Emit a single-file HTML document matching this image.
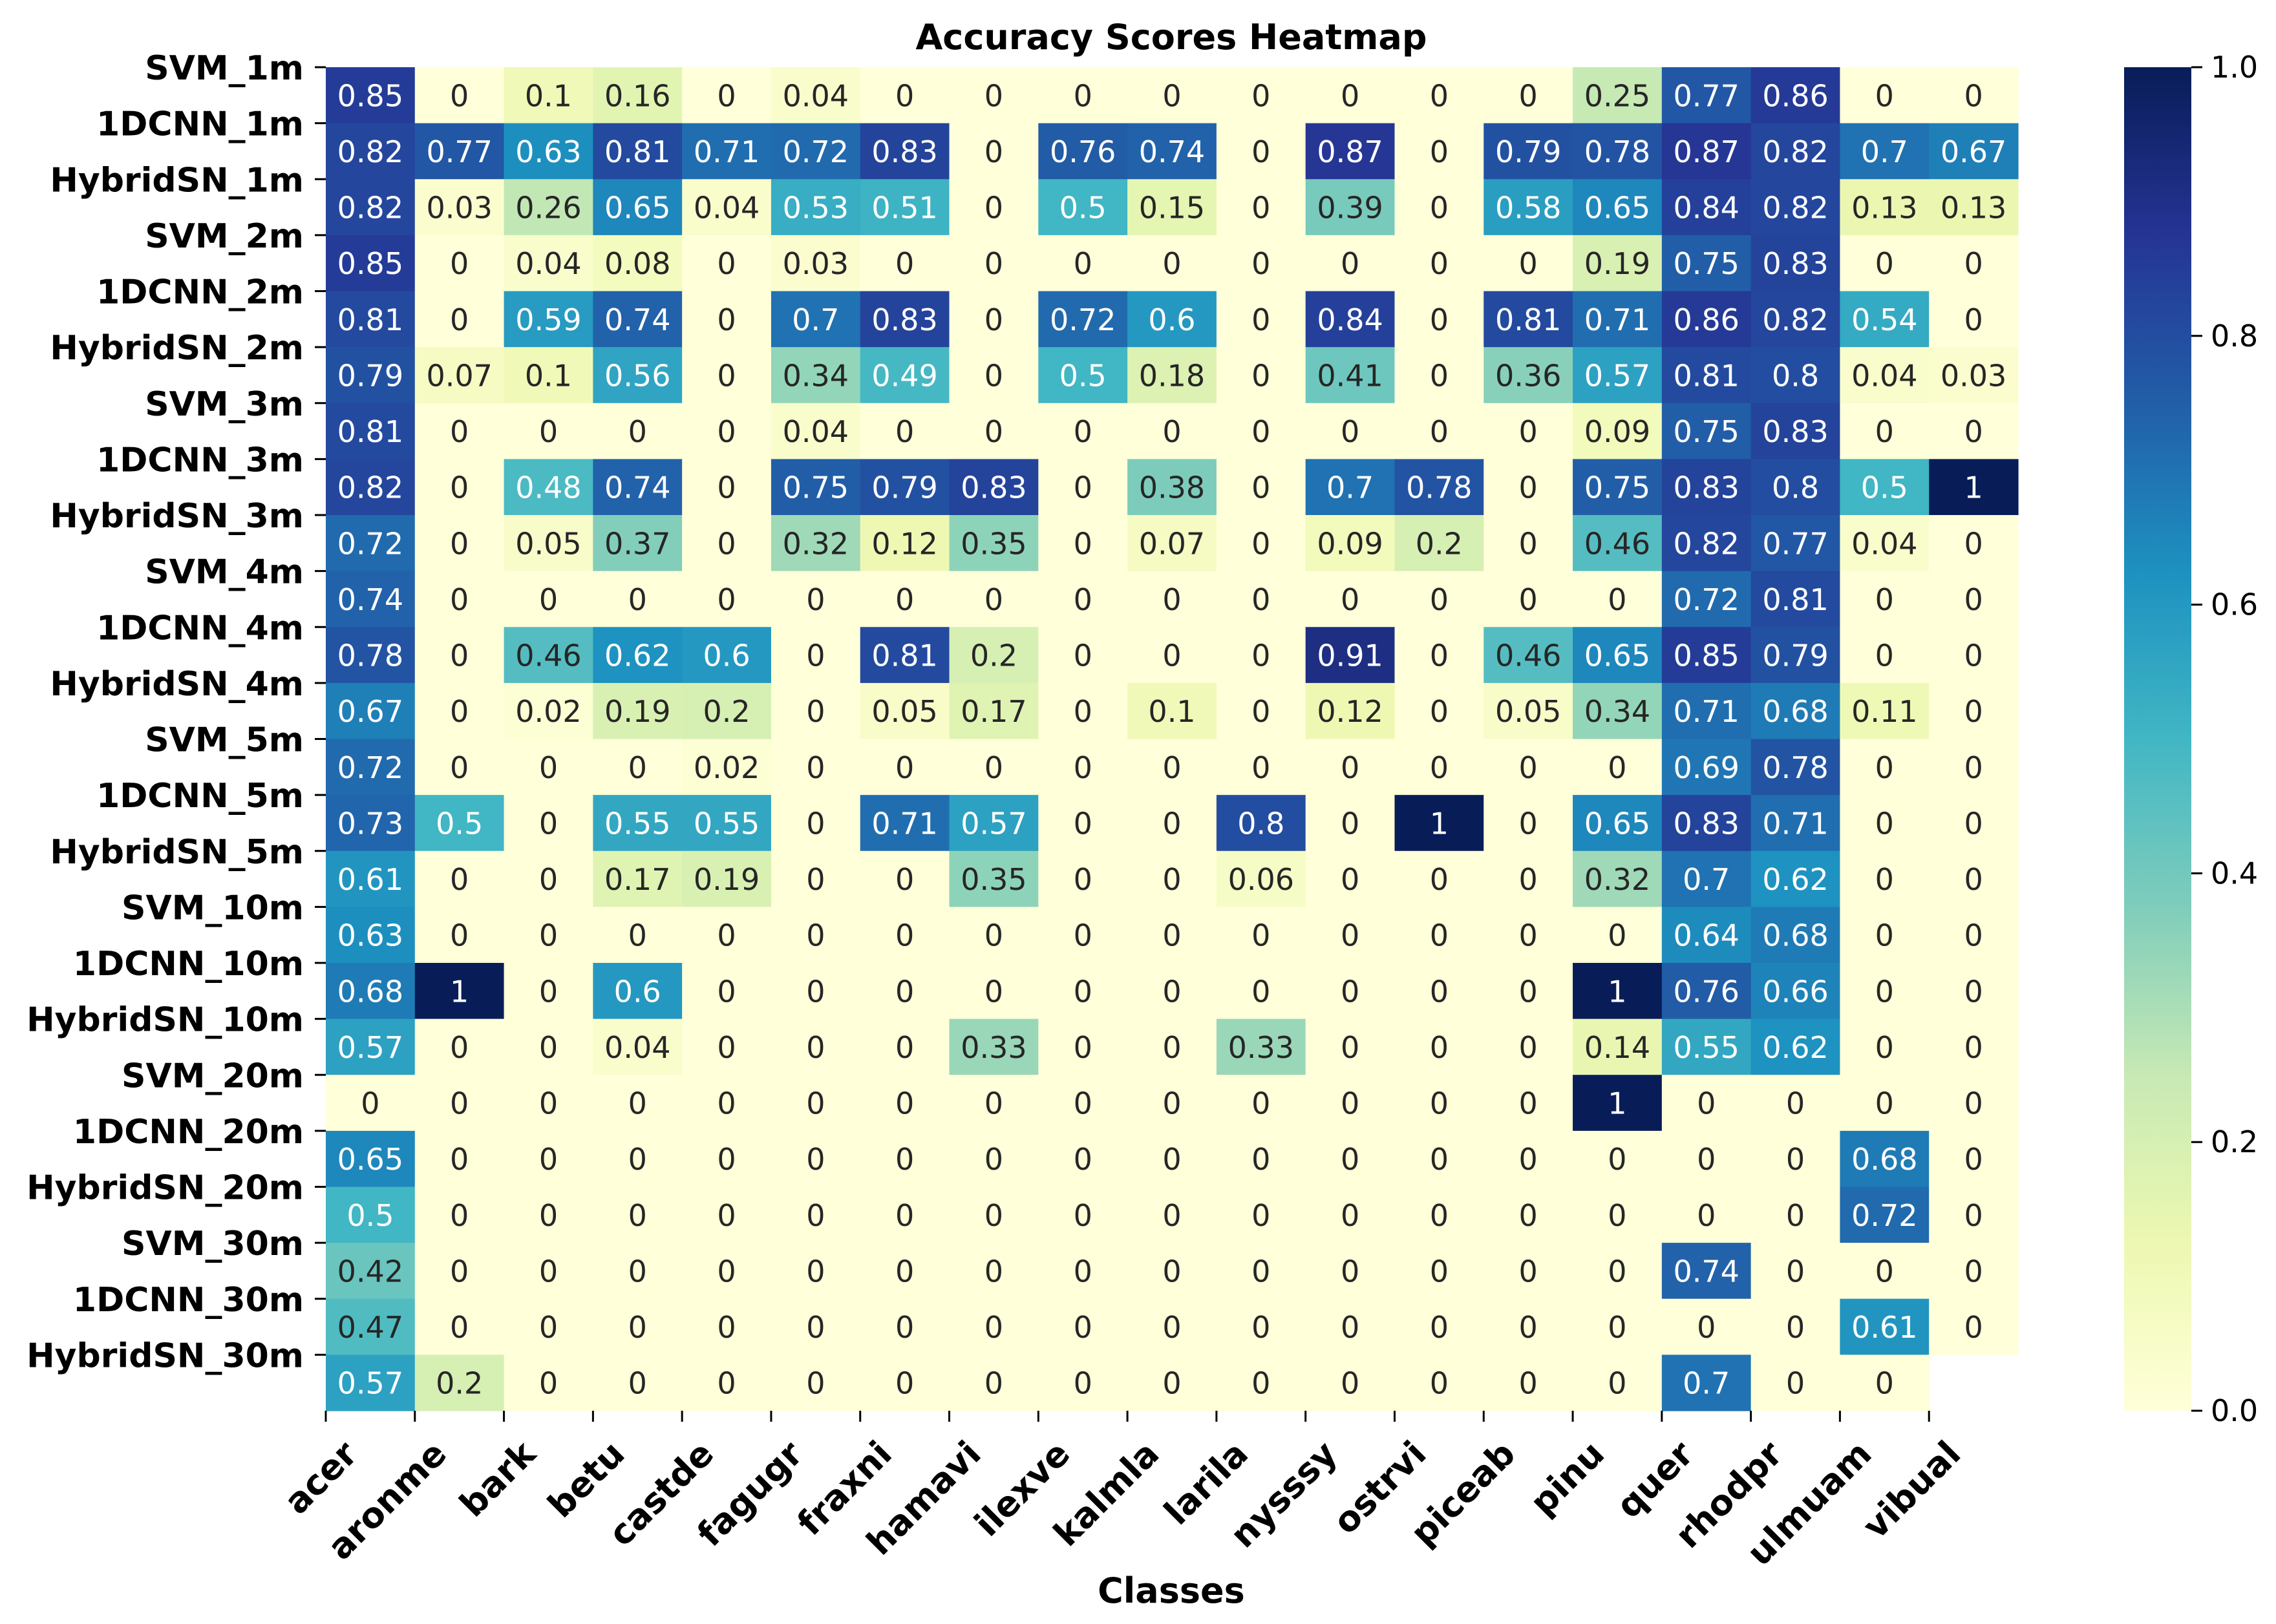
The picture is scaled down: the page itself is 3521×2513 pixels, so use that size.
<!DOCTYPE html>
<html><head><meta charset="utf-8"><style>
html,body{margin:0;padding:0;background:#fff;}
svg{display:block;font-family:"DejaVu Sans","Liberation Sans",sans-serif;}
</style></head><body>
<svg id="chart" width="3521" height="2513" viewBox="0 0 3521 2513" xmlns="http://www.w3.org/2000/svg">
<defs>
<linearGradient id="cbgrad" x1="0" y1="1" x2="0" y2="0">
<stop offset="0" stop-color="#ffffd9"/><stop offset="0.125" stop-color="#edf8b1"/><stop offset="0.25" stop-color="#c7e9b4"/><stop offset="0.375" stop-color="#7fcdbb"/><stop offset="0.5" stop-color="#41b6c4"/><stop offset="0.625" stop-color="#1d91c0"/><stop offset="0.75" stop-color="#225ea8"/><stop offset="0.875" stop-color="#253494"/><stop offset="1" stop-color="#081d58"/>
</linearGradient>
</defs>
<text x="1812" y="76" text-anchor="middle" font-weight="bold" font-size="54">Accuracy Scores Heatmap</text>
<text x="1812" y="2480" text-anchor="middle" font-weight="bold" font-size="54">Classes</text>
<g id="cells"></g>
<g id="ylabels"></g>
<g id="xlabels"></g>
<rect x="3286" y="104" width="104" height="2079" fill="url(#cbgrad)"/>
<g id="cbticks"></g>
</svg>
<script>
const classes = ["acer","aronme","bark","betu","castde","fagugr","fraxni","hamavi","ilexve","kalmla","larila","nysssy","ostrvi","piceab","pinu","quer","rhodpr","ulmuam","vibual"];
const models = ["SVM_1m","1DCNN_1m","HybridSN_1m","SVM_2m","1DCNN_2m","HybridSN_2m","SVM_3m","1DCNN_3m","HybridSN_3m","SVM_4m","1DCNN_4m","HybridSN_4m","SVM_5m","1DCNN_5m","HybridSN_5m","SVM_10m","1DCNN_10m","HybridSN_10m","SVM_20m","1DCNN_20m","HybridSN_20m","SVM_30m","1DCNN_30m","HybridSN_30m"];
const scores = [
[.85,0,.1,.16,0,.04,0,0,0,0,0,0,0,0,.25,.77,.86,0,0],
[.82,.77,.63,.81,.71,.72,.83,0,.76,.74,0,.87,0,.79,.78,.87,.82,.7,.67],
[.82,.03,.26,.65,.04,.53,.51,0,.5,.15,0,.39,0,.58,.65,.84,.82,.13,.13],
[.85,0,.04,.08,0,.03,0,0,0,0,0,0,0,0,.19,.75,.83,0,0],
[.81,0,.59,.74,0,.7,.83,0,.72,.6,0,.84,0,.81,.71,.86,.82,.54,0],
[.79,.07,.1,.56,0,.34,.49,0,.5,.18,0,.41,0,.36,.57,.81,.8,.04,.03],
[.81,0,0,0,0,.04,0,0,0,0,0,0,0,0,.09,.75,.83,0,0],
[.82,0,.48,.74,0,.75,.79,.83,0,.38,0,.7,.78,0,.75,.83,.8,.5,1],
[.72,0,.05,.37,0,.32,.12,.35,0,.07,0,.09,.2,0,.46,.82,.77,.04,0],
[.74,0,0,0,0,0,0,0,0,0,0,0,0,0,0,.72,.81,0,0],
[.78,0,.46,.62,.6,0,.81,.2,0,0,0,.91,0,.46,.65,.85,.79,0,0],
[.67,0,.02,.19,.2,0,.05,.17,0,.1,0,.12,0,.05,.34,.71,.68,.11,0],
[.72,0,0,0,.02,0,0,0,0,0,0,0,0,0,0,.69,.78,0,0],
[.73,.5,0,.55,.55,0,.71,.57,0,0,.8,0,1,0,.65,.83,.71,0,0],
[.61,0,0,.17,.19,0,0,.35,0,0,.06,0,0,0,.32,.7,.62,0,0],
[.63,0,0,0,0,0,0,0,0,0,0,0,0,0,0,.64,.68,0,0],
[.68,1,0,.6,0,0,0,0,0,0,0,0,0,0,1,.76,.66,0,0],
[.57,0,0,.04,0,0,0,.33,0,0,.33,0,0,0,.14,.55,.62,0,0],
[0,0,0,0,0,0,0,0,0,0,0,0,0,0,1,0,0,0,0],
[.65,0,0,0,0,0,0,0,0,0,0,0,0,0,0,0,0,.68,0],
[.5,0,0,0,0,0,0,0,0,0,0,0,0,0,0,0,0,.72,0],
[.42,0,0,0,0,0,0,0,0,0,0,0,0,0,0,.74,0,0,0],
[.47,0,0,0,0,0,0,0,0,0,0,0,0,0,0,0,0,.61,0],
[.57,.2,0,0,0,0,0,0,0,0,0,0,0,0,0,.7,0,0,null]
];
const cbTicks = [0,0.2,0.4,0.6,0.8,1.0];

const L=504, R=3122, T=104, B=2183;
const colW=(R-L)/classes.length, rowH=(B-T)/models.length;
const xPos=i=>L+i*colW, yPos=j=>T+j*rowH;
const cbY=v=>B-v*(B-T);
const stops=["#ffffd9","#edf8b1","#c7e9b4","#7fcdbb","#41b6c4","#1d91c0","#225ea8","#253494","#081d58"].map(h=>[1,3,5].map(k=>parseInt(h.substr(k,2),16)));
function cmap(v){const t=Math.max(0,Math.min(1,v))*8;const i=Math.min(7,Math.floor(t));const f=t-i;return stops[i].map((c,k)=>Math.round(c+(stops[i+1][k]-c)*f));}
function lum(c){const l=c.map(x=>{x/=255;return x<=0.03928?x/12.92:Math.pow((x+0.055)/1.055,2.4);});return 0.2126*l[0]+0.7152*l[1]+0.0722*l[2];}
const NS="http://www.w3.org/2000/svg";
function mk(tag,attrs,parent){const e=document.createElementNS(NS,tag);for(const k in attrs)e.setAttribute(k,attrs[k]);parent.appendChild(e);return e;}
const cells=document.getElementById('cells');
scores.forEach((row,j)=>row.forEach((v,i)=>{
  if(v===null) return;
  const c=cmap(v);
  const r=mk('rect',{x:xPos(i),y:yPos(j),width:colW+0.6,height:rowH+0.6,fill:`rgb(${c})`},cells);
  
  
  const t=mk('text',{x:xPos(i)+colW/2,y:yPos(j)+rowH/2+17,'text-anchor':'middle','font-size':46,fill:lum(c)>0.408?'#262626':'#ffffff'},cells);
  
  
  t.textContent=String(v);
}));
const yl=document.getElementById('ylabels');
models.forEach((m,j)=>{
  const tk=mk('line',{x1:L-17,x2:L,y1:yPos(j),y2:yPos(j),stroke:'#000','stroke-width':3},yl);
  
  
  const t=mk('text',{x:470,y:yPos(j)+19,'text-anchor':'end','font-size':52,'font-weight':'bold'},yl);
  
  
  t.textContent=m;
});
const xl=document.getElementById('xlabels');
classes.forEach((c,i)=>{
  const tk=mk('line',{x1:xPos(i),x2:xPos(i),y1:B,y2:B+17,stroke:'#000','stroke-width':3},xl);
  
  
  const cx=xPos(i)+colW/2-17, cy=B+70;
  const t=mk('text',{x:0,y:0,transform:`translate(${cx},${cy}) rotate(-45)`,'text-anchor':'end','font-size':54,'font-weight':'bold'},xl);
  
  
  t.textContent=c;
});
const cbt=document.getElementById('cbticks');
cbTicks.forEach(v=>{
  const y=cbY(v);
  const tk=mk('line',{x1:3390,x2:3407,y1:y,y2:y,stroke:'#000','stroke-width':3},cbt);
  
  
  const t=mk('text',{x:3420,y:y+16,'font-size':46},cbt);
  
  
  t.textContent=v.toFixed(1);
});
</script>
</body></html>
